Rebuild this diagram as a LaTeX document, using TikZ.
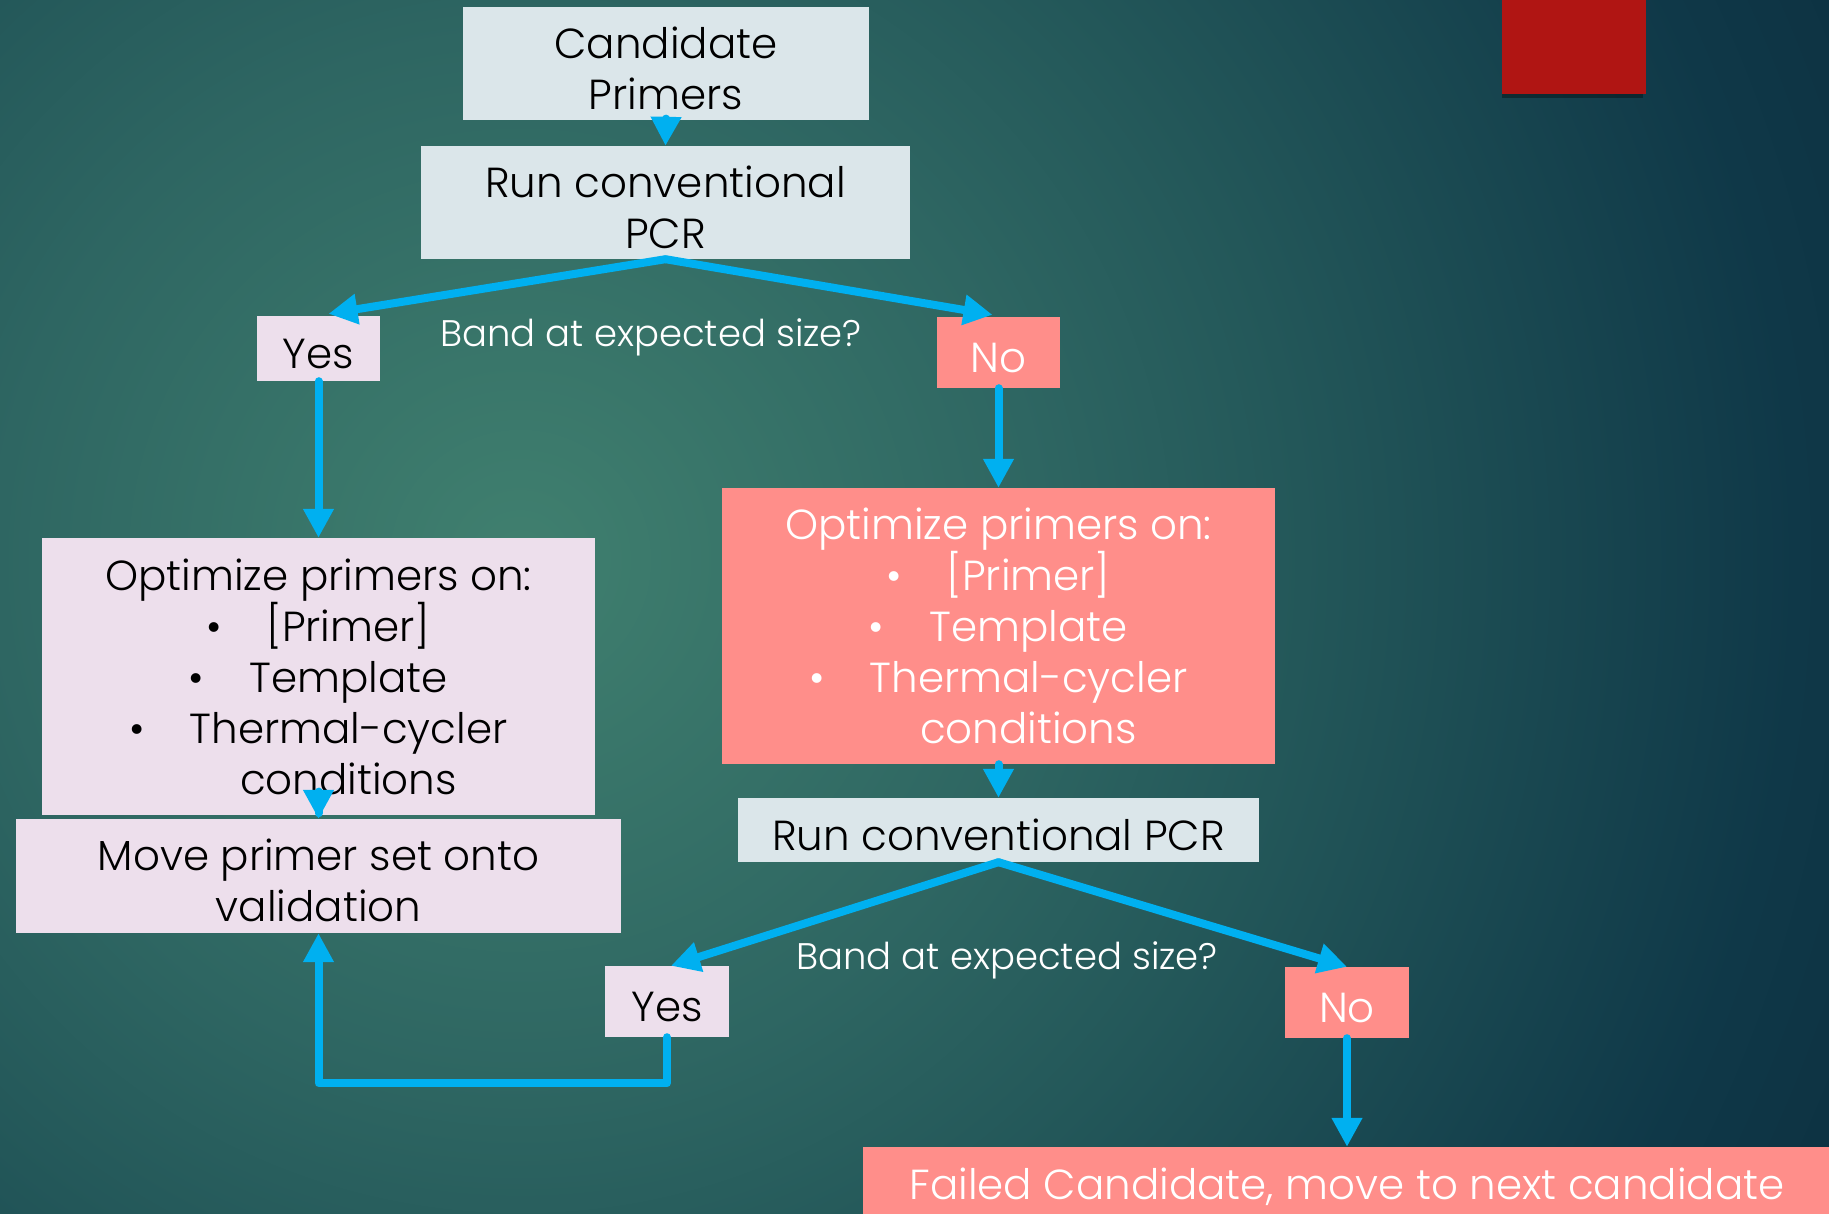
\documentclass[tikz,border=0pt]{standalone}
\usepackage{fontspec}
\IfFontExistsTF{Poppins Light}{\setmainfont{Poppins Light}}{\setmainfont{Poppins}}
\usetikzlibrary{arrows.meta,calc}
\definecolor{bgc}{HTML}{40806F}
\definecolor{bgl}{HTML}{2E6662}
\definecolor{bgm}{HTML}{235759}
\definecolor{bgd}{HTML}{0F3848}
\definecolor{bge}{HTML}{0D3242}
\definecolor{boxblue}{HTML}{DBE6EA}
\definecolor{boxpink}{HTML}{EDDFEC}
\definecolor{boxsalmon}{HTML}{FF8E8A}
\definecolor{arrowblue}{HTML}{00B0F0}
\definecolor{redsq}{HTML}{B01513}
\pgfdeclareradialshading{bgshade}{\pgfpoint{0bp}{0bp}}{color(0bp)=(bgc); color(9bp)=(bgl); color(13.5bp)=(bgm); color(22bp)=(bgd); color(25bp)=(bge); color(50bp)=(bge)}
\newcommand{\blt}[1]{\hspace*{60pt}\llap{\textbullet\hspace{45pt}}#1}
\newcommand{\tstrut}{\rule{0pt}{41pt}}
\begin{document}
\begin{tikzpicture}[x=1pt,y=-1pt,
  box/.style={rectangle, inner sep=0pt, align=center, font=\fontsize{42}{51}\selectfont},
  tdown/.style={execute at begin node={\tstrut}},
  bluebox/.style={box, fill=boxblue, text=black},
  pinkbox/.style={box, fill=boxpink, text=black},
  salmonbox/.style={box, fill=boxsalmon, text=white},
  lbl/.style={inner sep=0pt, text=white, font=\fontsize{37}{44}\selectfont},
  conn/.style={draw=arrowblue, line width=8pt, line cap=round, line join=round,
    -{Triangle[length=29pt,width=29pt]}}
]
\useasboundingbox (0,0) rectangle (1829,1214);
\begin{scope}
  \clip (0,0) rectangle (1829,1214);
  \shade[shading=bgshade] (520,560) circle (1450pt);
  \fill[black,opacity=0.35] (1502,-10) rectangle (1643,98);
  \fill[redsq] (1502,-10) rectangle (1646,94);
  \node[salmonbox, tdown, minimum width=968pt, minimum height=70pt] (failed) at (1347,1182)
    {Failed Candidate, move to next candidate};
\end{scope}

\node[bluebox, minimum width=406pt, minimum height=113pt] (cand) at (666,63.5) {\tstrut Candidate\\Primers};
\node[bluebox, minimum width=489pt, minimum height=113pt] (pcr1) at (665.5,202.5) {\tstrut Run conventional\\PCR};
\node[pinkbox, tdown, minimum width=123pt, minimum height=65pt] (yes1) at (318.5,348.5) {Yes};
\node[salmonbox, tdown, minimum width=123pt, minimum height=71pt] (no1) at (998.5,352.5) {No};
\node[lbl] (band1) at (651,337) {Band at expected size?};
\node[pinkbox, minimum width=553pt, minimum height=277pt] (opt1) at (318.5,676.5)
  {Optimize primers on:\\\blt{[Primer]}\\\blt{Template}\\\blt{Thermal-cycler}\\\hspace*{60pt}conditions};
\node[pinkbox, minimum width=605pt, minimum height=114pt] (move) at (318.5,876) {\tstrut Move primer set onto\\validation};
\node[salmonbox, minimum width=553pt, minimum height=276pt] (opt2) at (998.5,626)
  {Optimize primers on:\\\blt{[Primer]}\\\blt{Template}\\\blt{Thermal-cycler}\\\hspace*{60pt}conditions};
\node[bluebox, tdown, minimum width=521pt, minimum height=64pt] (pcr2) at (998.5,830) {Run conventional PCR};
\node[lbl] (band2) at (1007,960) {Band at expected size?};
\node[pinkbox, tdown, minimum width=124pt, minimum height=71pt] (yes2) at (667,1001.5) {Yes};
\node[salmonbox, tdown, minimum width=124pt, minimum height=71pt] (no2) at (1347,1002.5) {No};

\draw[conn] (cand.south) -- (pcr1.north);
\draw[conn] (pcr1.south) -- ($(yes1.north)+(10,-2)$);
\draw[conn] (pcr1.south) -- ($(no1.north)+(-6,-2)$);
\draw[conn] (yes1.south) -- (opt1.north);
\draw[conn] (no1.south) -- (opt2.north);
\draw[conn] ($(opt1.south)+(0,-2)$) -- (move.north);
\draw[conn] (opt2.south) -- (pcr2.north);
\draw[conn] (pcr2.south) -- ($(yes2.north)+(4,0)$);
\draw[conn] (pcr2.south) -- (no2.north);
\draw[conn] (yes2.south) -- ++(0,46) -| (move.south);
\draw[conn] (no2.south) -- (failed.north);
\end{tikzpicture}
\end{document}
